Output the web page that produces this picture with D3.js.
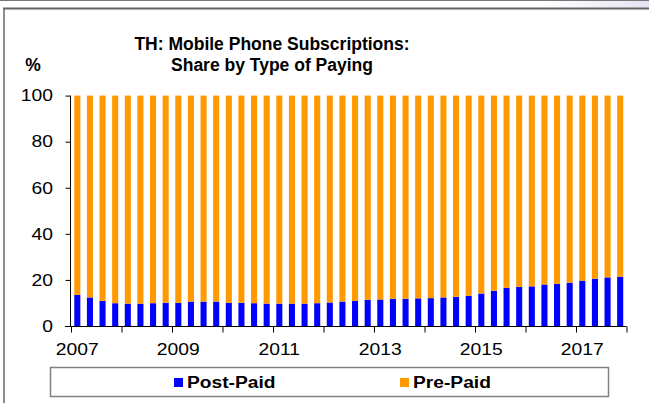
<!DOCTYPE html>
<html>
<head>
<meta charset="utf-8">
<script src="https://cdn.jsdelivr.net/npm/d3@7"></script>
<style>
    body { margin: 0; background: #fff; }
    text { font-family: "Liberation Sans", Arial, sans-serif; fill: #000; }
</style>
</head>
<body>
<div id="chart"></div>
<script>

    // categories: one bar per quarter, 2007 Q1 .. 2017 Q4
    var years = [2007, 2008, 2009, 2010, 2011, 2012, 2013, 2014, 2015, 2016, 2017]
    var quarterNames = ["Q1", "Q2", "Q3", "Q4"]
    var yearLabels = ["2007", "2009", "2011", "2013", "2015", "2017"]
    var yTicks = [0, 20, 40, 60, 80, 100]

    // shares in %
    var postPaid = [13.5, 12.4, 10.9, 9.9, 9.7, 9.7, 9.9, 10.1, 10.1, 10.6, 10.6, 10.6,
                    10.1, 10.1, 9.9, 9.7, 9.7, 9.7, 9.7, 9.9, 10.2, 10.6, 10.9, 11.4,
                    11.5, 11.8, 11.8, 12.0, 12.1, 12.4, 12.7, 13.1, 14.1, 15.3, 16.6, 17.0,
                    17.2, 18.0, 18.3, 18.8, 19.7, 20.5, 21.1, 21.4]
    var prePaid  = [86.5, 87.6, 89.1, 90.1, 90.3, 90.3, 90.1, 89.9, 89.9, 89.4, 89.4, 89.4,
                    89.9, 89.9, 90.1, 90.3, 90.3, 90.3, 90.3, 90.1, 89.8, 89.4, 89.1, 88.6,
                    88.5, 88.2, 88.2, 88.0, 87.9, 87.6, 87.3, 86.9, 85.9, 84.7, 83.4, 83.0,
                    82.8, 82.0, 81.7, 81.2, 80.3, 79.5, 78.9, 78.6]

    var seriesNames = ["Post-Paid", "Pre-Paid"]
    var colors = ["#0000ff", "#ff9900"]

    var width = 649
        height = 403
        stretch = 1.17   // the original text is drawn a bit wide

    var quarters = []
    years.forEach(function(y) {
        quarterNames.forEach(function(q) { quarters.push(y + q) })
    })

    var rows = quarters.map(function(q, i) {
        return {q: q, "Post-Paid": postPaid[i], "Pre-Paid": prePaid[i]}
    })

    var svg = d3.select("#chart")
    .append("svg")
        .attr("width", width)
        .attr("height", height)

    // frame lines around the chart
    var grad = svg.append("defs").append("linearGradient")
        .attr("id", "topfade")
    grad.append("stop").attr("offset", "0%").attr("stop-color", "#ffffff")
    grad.append("stop").attr("offset", "100%").attr("stop-color", "#e4e4f2")
    svg.append("rect")
        .attr("x", 545).attr("y", 1).attr("width", 104).attr("height", 7)
        .attr("fill", "url(#topfade)")
    svg.append("line")
        .attr("x1", 0).attr("x2", width).attr("y1", 0.5).attr("y2", 0.5)
        .attr("stroke", "#777").attr("stroke-width", 1)
    svg.append("line")
        .attr("x1", 3).attr("x2", width).attr("y1", 8.5).attr("y2", 8.5)
        .attr("stroke", "#666").attr("stroke-width", 2)
    svg.append("line")
        .attr("x1", 4).attr("x2", 4).attr("y1", 8).attr("y2", height)
        .attr("stroke", "#666").attr("stroke-width", 1.5)

    // scales
    var x = d3.scaleBand()
        .domain(quarters)
        .range([71, 626.5])
        .paddingInner(0.52)
        .paddingOuter(0.26)

    var xYear = d3.scaleLinear()
        .domain([2007, 2018])
        .range([71, 626.5])

    var y = d3.scaleLinear()
        .domain([0, 100])
        .range([326, 95.6])

    // stacked bars
    var stacked = d3.stack().keys(seriesNames)(rows)

    svg.append("g")
        .selectAll("g")
        .data(stacked)
        .enter()
        .append("g")
            .attr("fill", function(d, i) { return colors[i] })
        .selectAll("rect")
        .data(function(d) { return d })
        .enter()
        .append("rect")
            .attr("x", function(d) { return x(d.data.q) })
            .attr("width", x.bandwidth())
            .attr("y", function(d) { return y(d[1]) })
            .attr("height", function(d) { return y(d[0]) - y(d[1]) })

    // y axis
    var yAxis = svg.append("g")
        .attr("transform", "translate(70.5,0)")
        .call(d3.axisLeft(y).tickValues(yTicks).tickSize(5).tickPadding(12))
    yAxis.selectAll("text")
        .style("font-size", "16.5px")
        .attr("x", -17.5 / stretch)
        .attr("transform", "scale(" + stretch + ",1)")
    yAxis.selectAll("line, path").attr("stroke", "#000")
    yAxis.select(".domain").attr("d", "M0," + y(100) + "V" + y(0))

    // x axis: a tick at every year boundary
    var xAxis = svg.append("g")
        .attr("transform", "translate(0,326.5)")
        .call(d3.axisBottom(xYear).ticks(11).tickSize(6).tickFormat(""))
    xAxis.selectAll("line, path").attr("stroke", "#000")
    xAxis.select(".domain").attr("d", "M65," + 0 + "H" + 626.5)

    // year labels under the first quarter of each odd year
    svg.append("g")
        .selectAll("text")
        .data(yearLabels)
        .enter()
        .append("text")
            .attr("transform", function(d) {
                return "translate(" + (x(d + "Q1") + x.bandwidth() / 2) + ",355) scale(" + stretch + ",1)"
            })
            .attr("text-anchor", "middle")
            .style("font-size", "16.5px")
            .text(function(d) { return d })

    // title and unit
    svg.append("text")
        .attr("x", 272).attr("y", 50)
        .attr("text-anchor", "middle")
        .style("font-size", "17.5px").style("font-weight", "bold")
        .text("TH: Mobile Phone Subscriptions:")
    svg.append("text")
        .attr("x", 272).attr("y", 71)
        .attr("text-anchor", "middle")
        .style("font-size", "17.5px").style("font-weight", "bold")
        .text("Share by Type of Paying")
    svg.append("text")
        .attr("x", 33).attr("y", 71)
        .attr("text-anchor", "middle")
        .style("font-size", "17.5px").style("font-weight", "bold")
        .text("%")

    // legend
    svg.append("rect")
        .attr("x", 50.5).attr("y", 367.5).attr("width", 558).attr("height", 29)
        .attr("fill", "#fff").attr("stroke", "#808080").attr("stroke-width", 1.5)

    var legendX = [174, 400]
    var legend = svg.selectAll(".legend")
        .data(seriesNames)
        .enter()
        .append("g")
            .attr("transform", function(d, i) { return "translate(" + legendX[i] + ",378)" })
    legend.append("rect")
        .attr("width", 9).attr("height", 9)
        .attr("fill", function(d, i) { return colors[i] })
    legend.append("text")
        .attr("transform", "translate(13,10) scale(1.13,1)")
        .style("font-size", "17px").style("font-weight", "bold")
        .text(function(d) { return d })

</script>
</body>
</html>
